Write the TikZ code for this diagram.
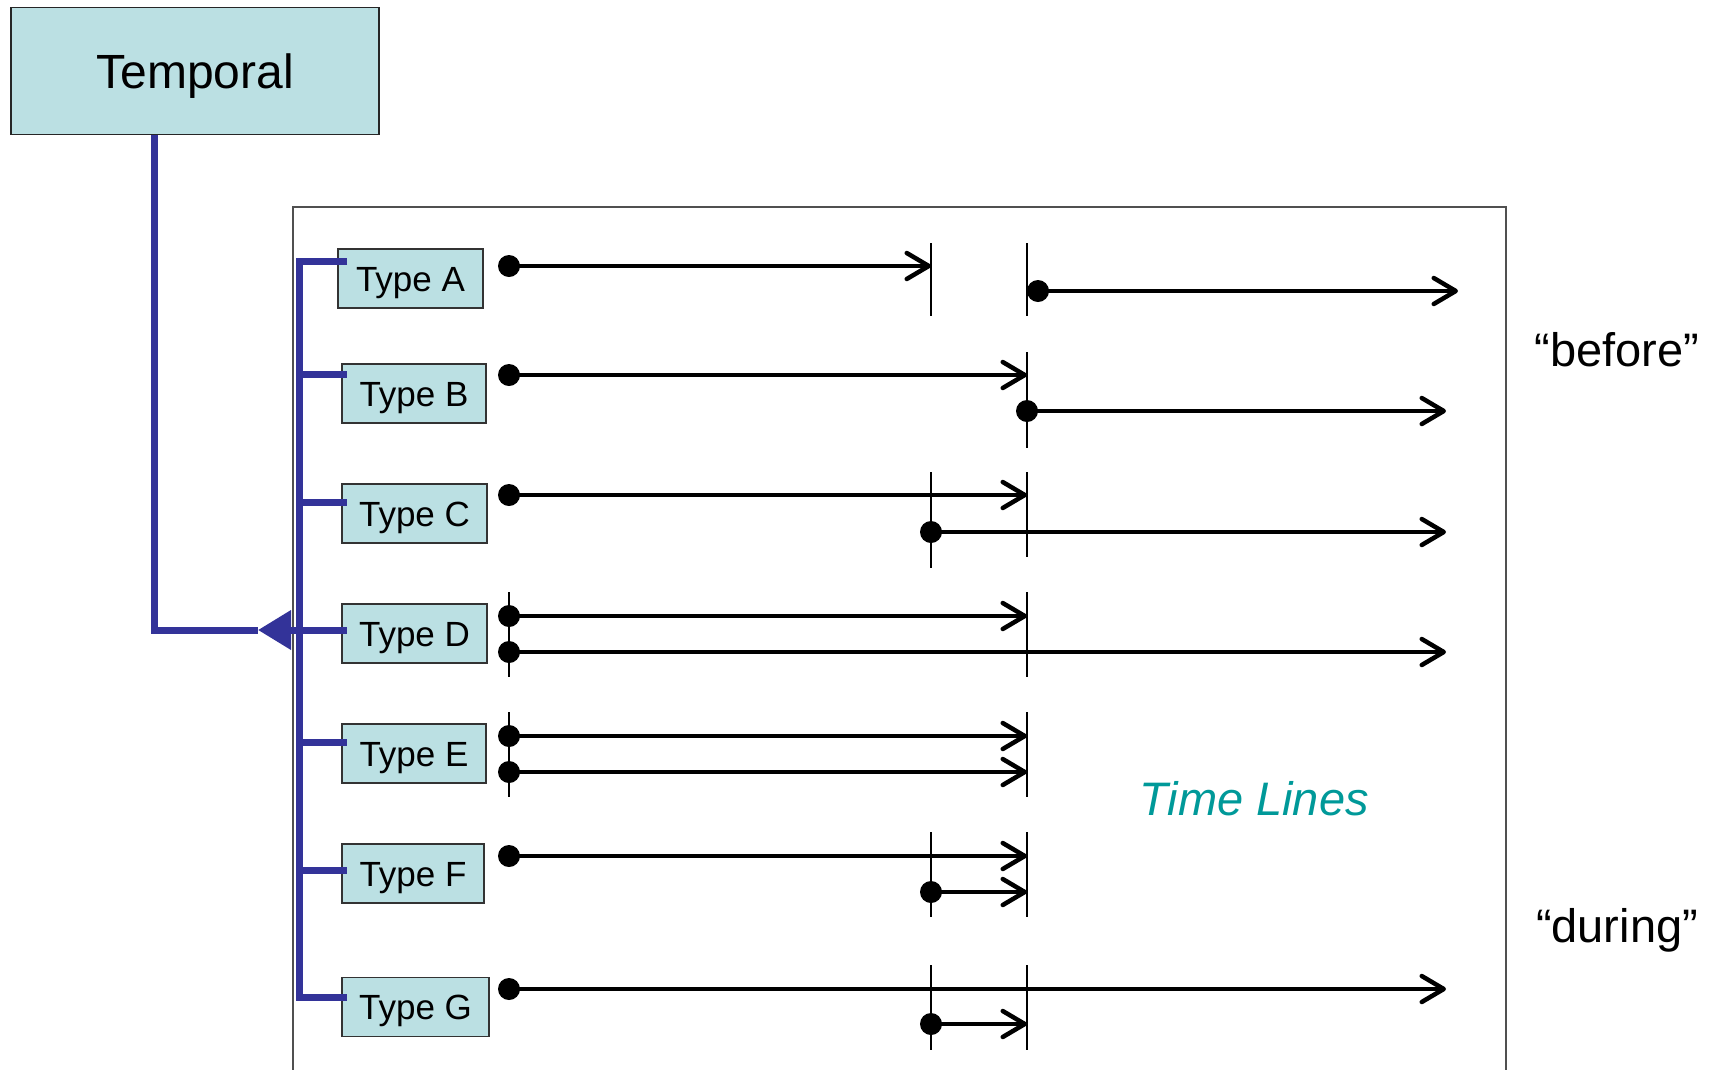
\documentclass[tikz,border=0pt]{standalone}
\usepackage{fontspec}
\setmainfont{Liberation Sans}
\usetikzlibrary{arrows.meta}
\definecolor{boxfill}{HTML}{BBE0E3}
\definecolor{linkblue}{HTML}{333399}
\definecolor{labelteal}{HTML}{009999}
\definecolor{framegray}{HTML}{505050}

\begin{document}
\begin{tikzpicture}[x=1pt,y=-1pt,
  topbox/.style={draw=black!85, line width=1.5pt, fill=boxfill,
    minimum width=368pt, minimum height=127pt, inner sep=0pt,
    font=\fontsize{48}{52}\selectfont, text height=34.5pt, text depth=0pt},
  typebox/.style={draw=black!80, line width=1.4pt, fill=boxfill,
    minimum height=59pt, inner sep=0pt,
    font=\fontsize{35}{40}\selectfont, text height=25pt, text depth=0pt},
  bus/.style={draw=linkblue, line width=7pt},
  tline/.style={line width=3.5pt,
    -{Straight Barb[length=22pt,width=26pt,line width=4.5pt,round]}},
  dot/.style={circle, fill=black, minimum size=22pt, inner sep=0pt},
  tick/.style={line width=1.5pt},
  frame/.style={draw=framegray, line width=1.5pt},
  bigtext/.style={font=\fontsize{47}{52}\selectfont, anchor=base}]

\useasboundingbox (0,0) rectangle (1712,1069);

% frame around the time lines
\draw[frame] (293,1080) |- (1506,207) -- (1506,1080);

% boxes
\node[topbox] (temporal) at (195,71) {Temporal};
\node[typebox, minimum width=145pt] (ta) at (410.5,278.5) {Type A};
\node[typebox, minimum width=144pt] (tb) at (414,393.5) {Type B};
\node[typebox, minimum width=145pt] (tc) at (414.5,513.5) {Type C};
\node[typebox, minimum width=145pt] (td) at (414.5,633.5) {Type D};
\node[typebox, minimum width=144pt] (te) at (414,753.5) {Type E};
\node[typebox, minimum width=142pt] (tf) at (413,873.5) {Type F};
\node[typebox, minimum width=147pt] (tg) at (415.5,1007) {Type G};

% blue tree from Temporal to the types
\coordinate (hub) at (299,630);
\coordinate (tip) at (258,630);
\coordinate (jA) at (347,261);
\coordinate (jB) at (347,374);
\coordinate (jC) at (347,502);
\coordinate (jD) at (347,630);
\coordinate (jE) at (347,742);
\coordinate (jF) at (347,870);
\coordinate (jG) at (347,997);
\coordinate (busG) at (299,997);
\draw[bus] ([xshift=-41pt]temporal.south) |- (tip);
\draw[bus] (jA) -| (busG) -- (jG);
\foreach \j in {jB,jC,jD,jE,jF} \draw[bus] (\j -| hub) -- (\j);
\draw[bus, -{Triangle[length=33pt,width=38pt]}] (hub) -- (tip);

% tick marks
\draw[tick] (931,243) -- (931,316);
\draw[tick] (1027,243) -- (1027,316);
\draw[tick] (1027,352) -- (1027,448);
\draw[tick] (931,472) -- (931,568);
\draw[tick] (1027,472) -- (1027,557);
\draw[tick] (509,592) -- (509,677);
\draw[tick] (1027,592) -- (1027,677);
\draw[tick] (509,712) -- (509,797);
\draw[tick] (1027,712) -- (1027,797);
\draw[tick] (931,832) -- (931,917);
\draw[tick] (1027,832) -- (1027,917);
\draw[tick] (931,965) -- (931,1050);
\draw[tick] (1027,965) -- (1027,1050);

% time lines: start dots and arrow ends
\node[dot] (a1) at (509,266) {};  \coordinate (a1e) at (931,266);
\node[dot] (a2) at (1038,291) {}; \coordinate (a2e) at (1458,291);
\node[dot] (b1) at (509,375) {};  \coordinate (b1e) at (1027,375);
\node[dot] (b2) at (1027,411) {}; \coordinate (b2e) at (1446,411);
\node[dot] (c1) at (509,495) {};  \coordinate (c1e) at (1027,495);
\node[dot] (c2) at (931,532) {};  \coordinate (c2e) at (1446,532);
\node[dot] (d1) at (509,616) {};  \coordinate (d1e) at (1027,616);
\node[dot] (d2) at (509,652) {};  \coordinate (d2e) at (1446,652);
\node[dot] (e1) at (509,736) {};  \coordinate (e1e) at (1027,736);
\node[dot] (e2) at (509,772) {};  \coordinate (e2e) at (1027,772);
\node[dot] (f1) at (509,856) {};  \coordinate (f1e) at (1027,856);
\node[dot] (f2) at (931,892) {};  \coordinate (f2e) at (1027,892);
\node[dot] (g1) at (509,989) {};  \coordinate (g1e) at (1446,989);
\node[dot] (g2) at (931,1024) {}; \coordinate (g2e) at (1027,1024);
\foreach \s in {a1,a2,b1,b2,c1,c2,d1,d2,e1,e2,f1,f2,g1,g2}
  \draw[tline] (\s.center) -- (\s e);

% labels
\node[bigtext] (before) at (1617,366) {“before”};
\node[bigtext] (during) at (1617,942) {“during”};
\node[bigtext, font=\fontsize{47}{52}\selectfont\itshape, text=labelteal]
  (timelines) at (1254,815) {Time Lines};
\end{tikzpicture}
\end{document}
